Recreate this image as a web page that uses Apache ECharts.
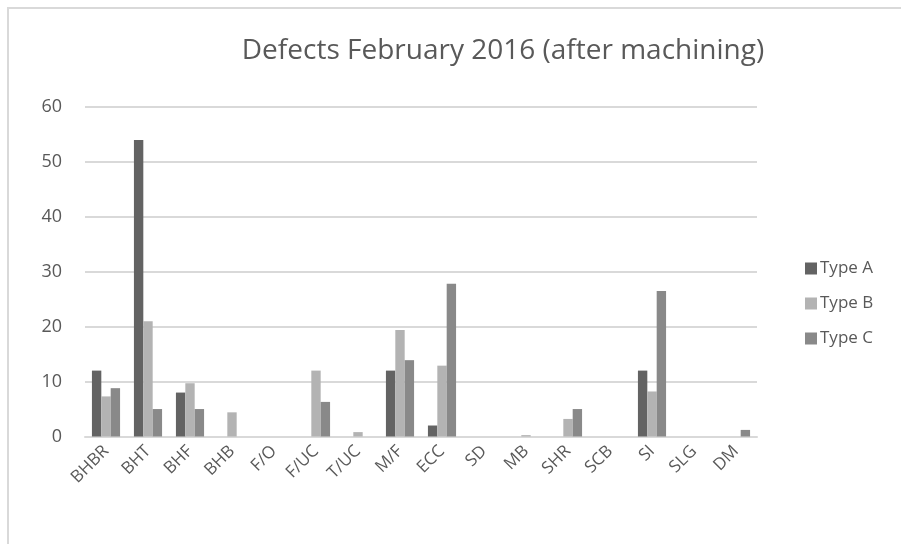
<!DOCTYPE html>
<html>
<head>
<meta charset="UTF-8">
<title>Defects February 2016</title>
<script src="https://cdn.jsdelivr.net/npm/echarts@6/dist/echarts.min.js"></script>
<style>
  * {margin: 0; padding: 0;}
  body {background: #fff;}
  #chart {width: 901px; height: 544px;}
</style>
</head>
<body>
<div id="chart"></div>
<script>
var categories = ['BHBR', 'BHT', 'BHF', 'BHB', 'F/O', 'F/UC', 'T/UC', 'M/F', 'ECC', 'SD', 'MB', 'SHR', 'SCB', 'SI', 'SLG', 'DM'];
var typeA = [12, 54, 8, 0, 0, 0, 0, 12, 2, 0, 0, 0, 0, 12, 0, 0];
var typeB = [7.3, 21, 9.7, 4.4, 0, 12, 0.8, 19.4, 12.9, 0, 0.25, 3.2, 0, 8.2, 0, 0];
var typeC = [8.8, 5, 5, 0, 0, 6.3, 0, 13.9, 27.8, 0, 0, 5, 0, 26.5, 0, 1.2];
var yTicks = [0, 10, 20, 30, 40, 50, 60];

var font = '"Open Sans", sans-serif';
var chart = echarts.init(document.getElementById('chart'));

var option = {
  animation: false,
  textStyle: {fontFamily: font},
  title: {
    text: 'Defects February 2016 (after machining)',
    left: 498,
    top: 32,
    textAlign: 'center',
    textStyle: {fontSize: 28, fontWeight: 'normal', color: '#595959', fontFamily: font}
  },
  graphic: [{
    type: 'rect',
    shape: {x: 8, y: 8, width: 920, height: 560},
    style: {fill: 'none', stroke: '#d9d9d9', lineWidth: 2}
  }],
  legend: {
    orient: 'vertical',
    left: 800,
    top: 255,
    itemWidth: 12,
    itemHeight: 12,
    itemGap: 18,
    icon: 'rect',
    textStyle: {fontSize: 17, color: '#595959', fontFamily: font, padding: [0, 0, 0, -2]},
    data: ['Type A', 'Type B', 'Type C']
  },
  grid: {left: 85, right: 144, top: 107, bottom: 107.5},
  xAxis: {
    type: 'category',
    data: categories,
    axisLine: {lineStyle: {color: '#d9d9d9', width: 2}},
    axisTick: {show: false},
    axisLabel: {rotate: 45, fontSize: 17, color: '#595959', margin: 12, interval: 0, fontFamily: font}
  },
  yAxis: {
    type: 'value',
    min: yTicks[0],
    max: yTicks[yTicks.length - 1],
    interval: 10,
    axisLine: {show: false},
    axisTick: {show: false},
    splitLine: {lineStyle: {color: '#d9d9d9', width: 2}},
    axisLabel: {fontSize: 18, color: '#595959', margin: 23, fontFamily: font}
  },
  series: [
    {name: 'Type A', type: 'bar', data: typeA, barGap: '0%', barCategoryGap: '33%', itemStyle: {color: '#636363'}},
    {name: 'Type B', type: 'bar', data: typeB, itemStyle: {color: '#b3b3b3'}},
    {name: 'Type C', type: 'bar', data: typeC, itemStyle: {color: '#898989'}}
  ]
};
chart.setOption(option);
</script>
</body>
</html>
